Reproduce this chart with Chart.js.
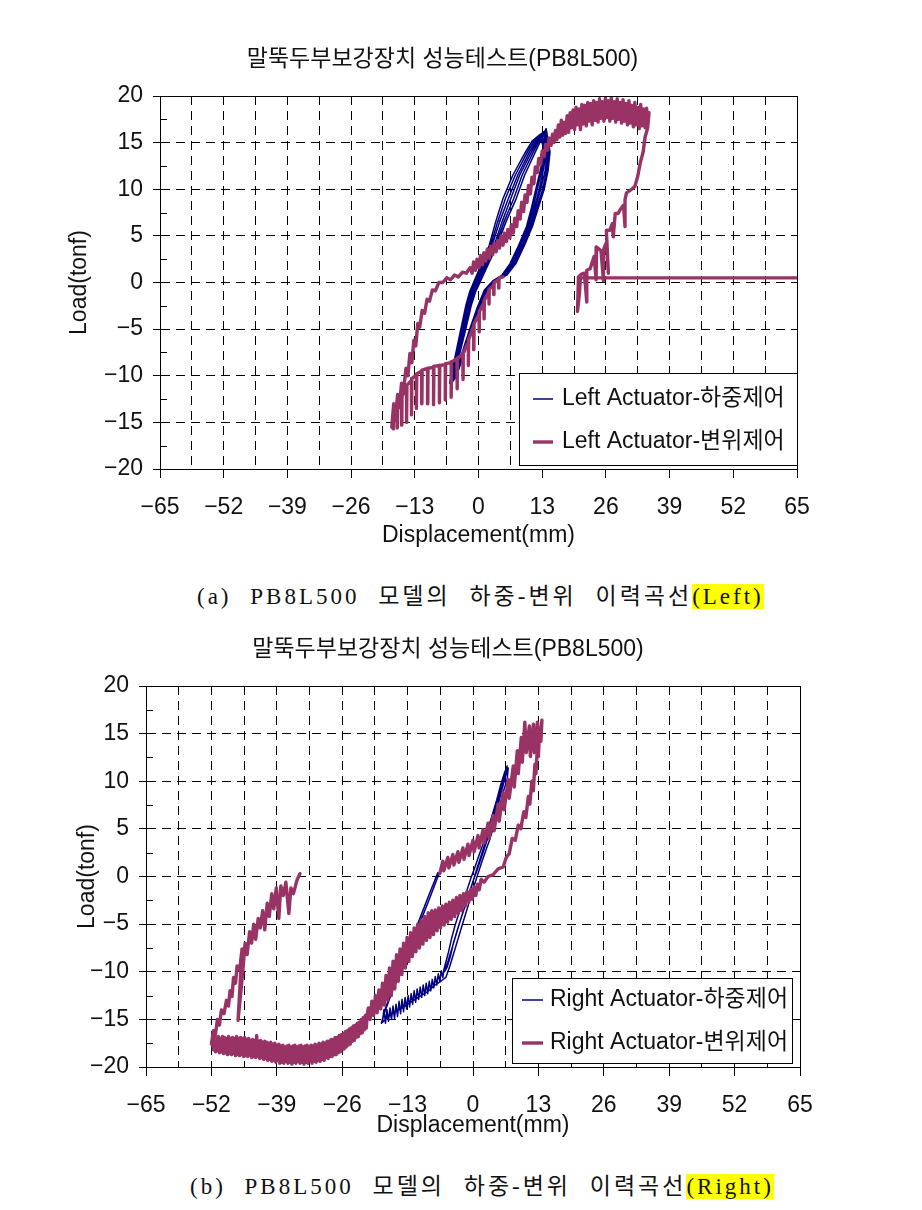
<!DOCTYPE html>
<html lang="ko">
<head>
<meta charset="UTF-8">
<title>말뚝두부보강장치 성능테스트(PB8L500)</title>
<script src="https://cdn.jsdelivr.net/npm/chart.js"></script>
<style>
  body { margin: 0; background: #fff; }
  #page { position: relative; width: 922px; height: 1210px; overflow: hidden; }
  .plot { position: absolute; left: 0; }
  .plot canvas { display: block; }
  .title {
    position: absolute; left: 0; text-align: center; white-space: nowrap;
    font-family: 'Liberation Sans', 'Noto Sans CJK KR', sans-serif;
    font-size: 23px; line-height: 28px; color: #111;
  }
  .caption {
    position: absolute; white-space: nowrap; color: #111;
    font-family: 'Liberation Serif', 'Noto Sans CJK KR', serif;
    font-size: 23px; line-height: 28px; letter-spacing: 3px; word-spacing: 10px;
  }
  .caption span { background: #ffff00; }
</style>
</head>
<body>
<div id="page">
  <div class="plot" style="top:0"><canvas id="leftChart" width="922" height="560"></canvas></div>
  <div class="plot" style="top:620px"><canvas id="rightChart" width="922" height="540"></canvas></div>
  <div class="title" style="top:44px; width:885px">말뚝두부보강장치 성능테스트(PB8L500)</div>
  <div class="caption" style="top:583px; left:197px">(a) PB8L500 모델의 하중-변위 이력곡선<span>(Left)</span></div>
  <div class="title" style="top:634px; width:896px">말뚝두부보강장치 성능테스트(PB8L500)</div>
  <div class="caption" style="top:1173px; left:190px">(b) PB8L500 모델의 하중-변위 이력곡선<span>(Right)</span></div>
</div>

<script>
// tick labels
const xLabelValues = [-65, -52, -39, -26, -13, 0, 13, 26, 39, 52, 65];
const yLabelValues = [-20, -15, -10, -5, 0, 5, 10, 15, 20];

// series names
const leftNames = ['Left Actuator-하중제어', 'Left Actuator-변위제어'];
const rightNames = ['Right Actuator-하중제어', 'Right Actuator-변위제어'];

// (a) Left actuator, load control  [displacement mm, load tonf]
const leftLoad = [
  [-5.9,-10.8],[-4.8,-8],[-3.6,-5],[-2.6,-2.5],[-1.8,-1],[0.2,1.5],[2.2,4],[3.5,6.5],[5.0,9],[7.0,11.5],[9.6,14],[11.0,15.2],[12.6,15.9],
  [13.4,14],[12.6,12],[11.7,10],[10.8,8],[9.8,6],[8.2,4],[6.4,2],[4.8,0.8],[3.0,0.2],[1.2,-0.8],[-0.2,-2.6],[-1.8,-5],[-3.4,-7.6],[-5.0,-10.2],
  [-5.8,-10.8],[-4.6,-8],[-3.4,-5],[-2.4,-2.5],[-1.6,-1],[0.5,1.5],[2.5,4],[3.9,6.5],[5.5,9],[7.5,11.5],[10.0,14],[11.4,15.2],[12.9,16.0],
  [13.6,14],[12.9,12],[12.0,10],[11.1,8],[10.0,6],[8.4,4],[6.6,2],[5.0,0.8],[3.1,0.2],[1.3,-0.8],[-0.1,-2.6],[-1.7,-5],[-3.3,-7.6],[-4.9,-10.2],
  [-5.7,-10.8],[-4.5,-8],[-3.2,-5],[-2.2,-2.5],[-1.3,-1],[0.8,1.5],[2.8,4],[4.3,6.5],[6.1,9],[8.0,11.5],[10.4,14],[11.8,15.2],[13.2,16.1],
  [13.9,14],[13.2,12],[12.4,10],[11.4,8],[10.3,6],[8.7,4],[6.9,2],[5.2,0.8],[3.2,0.2],[1.4,-0.8],[0.0,-2.6],[-1.6,-5],[-3.2,-7.6],[-4.8,-10.2],
  [-5.7,-10.8],[-4.3,-8],[-3.0,-5],[-1.9,-2.5],[-1.1,-1],[1.0,1.5],[3.2,4],[4.8,6.5],[6.6,9],[8.4,11.5],[10.8,14],[12.1,15.2],[13.4,16.2],
  [14.1,14],[13.6,12],[12.7,10],[11.6,8],[10.5,6],[8.9,4],[7.1,2],[5.4,0.8],[3.4,0.2],[1.6,-0.8],[0.2,-2.6],[-1.4,-5],[-3.1,-7.6],[-4.8,-10.2],
  [-5.6,-10.8],[-4.2,-8],[-2.8,-5],[-1.7,-2.5],[-0.8,-1],[1.3,1.5],[3.5,4],[5.2,6.5],[7.2,9],[8.9,11.5],[11.2,14],[12.4,15.2],[13.6,16.3],
  [14.4,14],[13.9,12],[13.1,10],[11.9,8],[10.8,6],[9.2,4],[7.4,2],[5.6,0.8],[3.5,0.2],[1.7,-0.8],[0.3,-2.6],[-1.3,-5],[-3.0,-7.6],[-4.7,-10.2],
  [-5.5,-10.8],[-4.0,-8],[-2.6,-5],[-1.5,-2.5],[-0.6,-1],[1.6,1.5],[3.8,4],[5.6,6.5],[7.7,9],[9.4,11.5],[11.6,14],[12.7,15.2],[13.8,16.5],
  [14.6,14],[14.2,12],[13.4,10],[12.2,8],[11.0,6],[9.4,4],[7.6,2],[5.8,0.8],[3.6,0.2],[1.8,-0.8],[0.4,-2.6],[-1.2,-5],[-2.9,-7.6],[-4.6,-10.2]
];

// (a) Left actuator, displacement control
const leftDisp = [
  [5.0,0.6],[4.2,0.5],[4.15,-0.6],[4.1,0.3],[3.2,0.0],[3.15,-1.3],[3.1,-0.3],[2.2,-0.7],[2.15,-2.3],[2.1,-1.0],
  [1.2,-1.9],[1.15,-3.9],[1.1,-2.2],[0.2,-3.1],[0.15,-5.3],[0.1,-3.4],[-0.9,-4.4],[-0.95,-7.2],[-1.0,-4.7],
  [-2.0,-6.1],[-2.05,-8.9],[-2.1,-6.4],[-3.1,-7.5],[-3.15,-10.4],[-3.2,-7.7],[-4.3,-8.1],[-4.35,-11.4],[-4.4,-8.2],
  [-5.5,-8.5],[-5.55,-12.3],[-5.6,-8.6],[-6.7,-8.7],[-6.75,-12.6],[-6.8,-8.8],[-7.9,-8.9],[-7.95,-12.9],[-8.0,-8.9],
  [-9.1,-9.0],[-9.15,-13.1],[-9.2,-9.1],[-10.3,-9.2],[-10.35,-13.0],[-10.4,-9.2],[-11.5,-9.4],[-11.55,-13.0],[-11.6,-9.5],
  [-12.6,-9.8],[-12.65,-13.5],[-12.7,-9.9],[-13.6,-10.3],[-13.65,-14.2],[-13.7,-10.5],[-14.6,-11.0],[-14.65,-15.0],[-14.7,-11.3],
  [-15.6,-12.2],[-15.65,-15.3],[-15.7,-12.5],[-16.5,-13.3],[-16.55,-15.6],[-16.6,-13.6],[-17.3,-14.5],[-17.35,-15.7],[-17.7,-15.5],
  [-17.3,-13.0],[-17.0,-14.8],[-16.5,-12.0],[-16.2,-13.4],[-15.7,-10.8],[-15.3,-11.6],[-14.8,-9.2],[-14.4,-10.0],[-14.0,-7.6],[-13.6,-8.6],
  [-13.2,-6.2],[-12.8,-6.8],[-12.4,-4.4],[-12.0,-4.8],[-11.5,-3.0],[-11.0,-3.3],[-10.5,-1.8],[-10.0,-2.0],[-9.4,-0.8],[-8.8,-0.9],
  [-8.1,0.0],[-7.3,0.0],[-6.5,0.5],[-5.7,0.3],[-4.9,0.8],[-4.1,0.6],[-3.3,1.1],[-2.5,1.0],[-1.7,1.6],
  [-1.3,1.0],[-1.0,2.2],[-0.6,1.3],[-0.3,2.5],[0.1,1.6],[0.4,2.9],[0.8,1.9],[1.1,3.2],[1.5,2.3],[1.8,3.6],[2.2,2.6],[2.5,3.9],
  [2.9,3.0],[3.2,4.2],[3.6,3.3],[3.9,4.5],[4.3,3.7],[4.6,5.0],[5.0,4.0],[5.3,5.3],[5.7,4.4],[6.0,5.7],[6.4,4.8],[6.7,6.2],
  [7.1,5.3],[7.4,6.9],[7.8,6.0],[8.1,7.7],[8.5,6.8],[8.8,8.6],[9.2,7.6],[9.5,9.4],[9.9,8.6],[10.2,10.4],[10.6,9.5],[10.9,11.3],
  [11.3,10.6],[11.6,12.4],[12.0,11.8],[12.3,13.3],[12.7,12.7],[13.0,14.1],[13.4,13.5],[13.7,14.8],[14.1,14.2],[14.4,15.5],[14.8,14.7],[15.1,15.9],
  [15.4,15.0],[15.7,16.3],[16.0,15.3],[16.3,16.9],[16.6,15.6],[16.9,17.4],[17.2,15.8],[17.5,17.2],[17.8,16.0],[18.1,17.9],
  [18.4,16.1],[18.7,18.2],[19.0,16.6],[19.3,18.5],[19.6,16.4],[19.9,18.8],[20.2,16.9],[20.5,18.6],[20.8,16.4],[21.1,19.1],
  [21.4,17.0],[21.7,19.0],[22.0,16.8],[22.3,19.3],[22.6,17.3],[22.9,19.2],[23.2,16.9],[23.5,19.5],[23.8,17.4],[24.1,19.3],
  [24.4,17.2],[24.7,19.7],[25.0,17.6],[25.3,19.4],[25.6,17.3],[25.9,19.8],[26.2,17.7],[26.5,19.5],[26.8,17.3],[27.1,19.8],
  [27.4,17.6],[27.7,19.4],[28.0,17.2],[28.3,19.7],[28.6,17.5],[28.9,19.3],[29.2,17.1],[29.5,19.6],[29.8,17.3],[30.1,19.2],
  [30.4,16.9],[30.7,19.5],[31.0,17.1],[31.3,19.0],[31.6,16.7],[31.9,19.3],[32.2,16.9],[32.5,18.8],[32.8,16.5],[33.1,19.1],
  [33.4,16.8],[33.7,18.6],[34.0,16.6],[34.3,18.7],[34.6,17.0],[34.8,18.2],
  [34.5,16.5],[34.0,15.6],[33.6,14.0],[33.0,12.8],[32.5,11.4],[31.9,10.3],[31.0,9.9],[30.2,9.6],[29.9,8.9],[29.9,6.0],
  [29.6,8.3],[28.9,7.8],[28.5,7.4],[27.9,7.4],[27.5,4.9],[27.3,6.3],[26.8,5.6],[26.1,5.6],[26.5,1.0],[26.1,4.3],
  [25.5,3.5],[25.5,0.2],[25.0,3.4],[24.1,3.8],[24.0,0.3],[23.6,2.8],[22.8,1.5],[22.1,1.3],[22.1,-2.1],[21.6,1.0],
  [21.0,0.9],[20.4,0.6],[20.2,-3.1],[20.6,-1.2],[20.8,0.5],[65.0,0.5]
];

// (b) Right actuator, load control
const rightLoad = [
  [-6.6,0.5],[-9.0,-2.8],[-11.4,-6.0],[-13.8,-9.2],[-16.0,-12.0],[-17.8,-14.6],[-18.0,-15.2],
  [-17.7,-14.0],[-17.4,-15.4],[-17.1,-14.0],[-16.8,-15.2],[-16.5,-13.8],[-16.2,-15.0],[-15.9,-13.6],[-15.6,-14.9],[-15.3,-13.4],
  [-15.0,-14.7],[-14.7,-13.1],[-14.4,-14.4],[-14.1,-12.9],[-13.8,-14.2],[-13.5,-12.7],[-13.2,-13.9],[-12.9,-12.5],[-12.6,-13.7],
  [-12.3,-12.3],[-12.0,-13.4],[-11.7,-12.0],[-11.4,-13.2],[-11.1,-11.8],[-10.8,-12.9],[-10.5,-11.6],[-10.2,-12.7],[-9.9,-11.4],
  [-9.6,-12.5],[-9.3,-11.2],[-9.0,-12.3],[-8.7,-11.0],[-8.4,-12.0],[-8.1,-10.8],[-7.8,-11.7],[-7.5,-10.5],[-7.2,-11.4],
  [-6.9,-10.2],[-6.6,-11.0],[-6.3,-9.9],[-6.0,-10.6],[-5.8,-9.8],
  [-5.6,-9.4],[-4.9,-8.0],[-4.3,-6.6],[-3.6,-5.2],[-2.9,-4.0],[-2.1,-2.8],[-1.3,-1.6],[-0.5,-0.3],[0.4,1.0],[1.3,2.4],
  [2.2,3.7],[3.1,5.2],[3.9,6.6],[4.7,8.0],[5.5,9.6],[6.2,10.8],[6.8,11.6],
  [6.5,10.8],[5.9,9.8],[5.3,8.6],[4.6,7.4],[3.9,6.0],[3.1,4.6],[2.3,3.3],[1.5,2.0],[0.7,0.7],[-0.1,-0.7],
  [-0.9,-2.0],[-1.7,-3.3],[-2.5,-4.6],[-3.3,-6.0],[-4.1,-7.4],[-4.9,-8.8],[-5.7,-10.0],
  [-5.2,-9.6],[-4.5,-8.4],[-3.9,-7.0],[-3.1,-5.6],[-2.4,-4.4],[-1.6,-3.1],[-0.8,-1.8],[0.0,-0.5],[0.9,0.8],[1.8,2.2],
  [2.6,3.5],[3.5,5.0],[4.3,6.4],[5.1,7.8],[5.9,9.4],[6.5,10.6],[7.0,11.4],
  [6.8,10.2],[6.2,9.2],[5.6,8.0],[4.9,6.8],[4.2,5.4],[3.4,4.0],[2.6,2.8],[1.8,1.6],[1.0,0.3],[0.2,-1.0],
  [-0.6,-2.4],[-1.4,-3.8],[-2.2,-5.2],[-3.0,-6.6],[-3.8,-8.0],[-4.6,-9.4],[-5.4,-10.6],
  [-6.4,-11.0],[-7.6,-11.4],[-8.8,-12.0],[-10.0,-12.4],[-11.2,-12.8],[-12.4,-13.2],[-13.6,-13.6],[-14.8,-14.0],[-16.0,-14.4],[-17.2,-14.9],[-18.2,-15.4],
  [-17.4,-13.8],[-15.4,-11.0],[-13.2,-8.0],[-11.0,-5.0],[-8.8,-2.0],[-7.0,0.4]
];

// (b) Right actuator, displacement control
const rightDisp = [
  [-6.6,0.3],[-6.0,1.6],[-5.8,0.6],[-5.0,2.0],[-4.8,0.9],[-4.0,2.3],[-3.8,1.2],[-3.0,2.6],[-2.8,1.5],[-2.0,3.0],[-1.8,1.8],
  [-1.0,3.4],[-0.8,2.2],[0.0,3.8],[0.2,2.6],[1.0,4.3],[1.2,3.0],[2.0,4.9],[2.2,3.5],[3.0,5.6],[3.2,4.0],[4.0,6.4],
  [4.2,4.8],[5.0,7.6],[5.2,5.8],[6.0,8.8],[6.2,7.0],[7.0,10.2],[7.2,8.2],[8.0,11.6],[8.2,9.4],[8.8,13.2],[9.0,10.8],
  [9.6,14.6],[9.8,12.0],[10.3,16.2],[10.6,13.0],[11.2,15.8],[11.4,12.6],[12.0,16.0],[12.2,13.0],[12.8,16.2],[13.0,13.6],[13.7,16.4],
  [13.5,14.2],[13.2,15.0],[13.0,12.6],[12.8,13.6],[12.5,10.8],[12.3,11.8],[12.0,9.0],[11.7,10.0],[11.3,7.6],[11.0,8.4],
  [10.5,6.2],[10.1,6.8],[9.5,5.0],[9.0,5.4],[8.4,3.8],[7.8,4.0],[7.2,2.4],[6.6,2.0],[6.0,1.0],[5.0,0.8],[4.0,0.2],[3.0,0.0],[2.2,-0.6],
  [1.6,-0.3],[1.25,-1.4],[0.9,-0.8],[0.55,-2.0],[0.2,-1.1],[-0.15,-2.4],[-0.5,-1.4],[-0.85,-2.7],[-1.2,-1.6],[-1.55,-3.1],
  [-1.9,-1.8],[-2.25,-3.6],[-2.6,-2.0],[-2.95,-3.9],[-3.3,-2.2],[-3.65,-4.2],[-4.0,-2.5],[-4.35,-4.5],[-4.7,-2.7],[-5.05,-4.8],
  [-5.4,-2.9],[-5.75,-5.1],[-6.1,-3.1],[-6.45,-5.4],[-6.8,-3.3],[-7.15,-5.7],[-7.5,-3.5],[-7.85,-6.1],[-8.2,-3.6],[-8.55,-6.4],
  [-8.9,-3.8],[-9.25,-6.7],[-9.6,-4.2],[-9.95,-7.1],[-10.3,-4.6],[-10.65,-7.5],[-11.0,-5.0],[-11.35,-7.9],[-11.7,-5.4],[-12.05,-8.4],
  [-12.4,-5.9],[-12.75,-8.9],[-13.1,-6.4],[-13.45,-9.6],[-13.8,-7.0],[-14.15,-10.3],[-14.5,-7.6],[-14.85,-11.0],[-15.2,-8.2],[-15.55,-11.8],
  [-15.9,-8.9],[-16.25,-12.5],[-16.6,-9.6],[-16.95,-13.0],[-17.3,-10.4],[-17.65,-13.5],[-18.0,-11.2],[-18.35,-13.9],[-18.7,-11.9],[-19.05,-14.3],
  [-19.4,-12.5],[-19.75,-14.6],[-20.1,-13.1],[-20.45,-15.0],[-20.8,-13.8],
  [-21.0,-14.4],[-21.2,-15.9],[-21.4,-14.6],[-21.6,-16.1],[-21.8,-14.8],[-22.0,-16.4],[-22.2,-15.0],[-22.4,-16.5],[-22.6,-15.3],[-22.8,-16.8],
  [-23.0,-15.4],[-23.2,-16.9],[-23.4,-15.6],[-23.6,-17.2],[-23.8,-15.7],[-24.0,-17.3],[-24.2,-15.9],[-24.4,-17.6],[-24.6,-16.0],[-24.8,-17.7],
  [-25.0,-16.2],[-25.2,-17.9],[-25.4,-16.3],[-25.6,-18.1],[-25.8,-16.5],[-26.0,-18.2],[-26.2,-16.6],[-26.4,-18.4],[-26.6,-16.7],[-26.8,-18.5],
  [-27.0,-16.9],[-27.2,-18.7],[-27.4,-16.9],[-27.6,-18.7],[-27.8,-17.1],[-28.0,-18.9],[-28.2,-17.1],[-28.4,-18.9],[-28.6,-17.3],[-28.8,-19.1],
  [-29.0,-17.3],[-29.2,-19.0],[-29.4,-17.5],[-29.6,-19.3],[-29.8,-17.4],[-30.0,-19.2],[-30.2,-17.6],[-30.4,-19.4],[-30.6,-17.5],[-30.8,-19.3],
  [-31.0,-17.7],[-31.2,-19.5],[-31.4,-17.6],[-31.6,-19.4],[-31.8,-17.8],[-32.0,-19.6],[-32.2,-17.7],[-32.4,-19.4],[-32.6,-17.9],[-32.8,-19.6],
  [-33.0,-17.7],[-33.2,-19.5],[-33.4,-17.8],[-33.6,-19.7],[-33.8,-17.9],[-34.0,-19.5],[-34.2,-17.7],[-34.4,-19.6],[-34.6,-17.8],[-34.8,-19.4],
  [-35.0,-17.9],[-35.2,-19.6],[-35.4,-17.7],[-35.6,-19.5],[-35.8,-17.8],[-36.0,-19.7],[-36.2,-17.9],[-36.4,-19.5],[-36.6,-17.7],[-36.8,-19.6],
  [-37.0,-17.8],[-37.2,-19.4],[-37.4,-17.9],[-37.6,-19.6],[-37.8,-17.7],[-38.0,-19.5],[-38.2,-17.8],[-38.4,-19.6],[-38.6,-17.6],[-38.8,-19.3],
  [-39.0,-17.7],[-39.2,-19.5],[-39.4,-17.5],[-39.6,-19.3],[-39.8,-17.6],[-40.0,-19.4],[-40.2,-17.4],[-40.4,-19.2],[-40.6,-17.5],[-40.8,-19.3],
  [-41.0,-17.4],[-41.2,-19.1],[-41.4,-17.3],[-41.6,-19.2],[-41.8,-17.4],[-42.0,-19.0],[-42.2,-17.2],[-42.4,-19.1],[-42.6,-17.3],[-42.8,-18.9],
  [-43.0,-16.7],[-43.2,-19.0],[-43.4,-17.2],[-43.6,-18.9],[-43.8,-17.1],[-44.0,-19.0],[-44.2,-17.2],[-44.4,-18.8],[-44.6,-17.0],[-44.8,-18.9],
  [-45.0,-17.1],[-45.2,-18.8],[-45.4,-16.9],[-45.6,-18.9],[-45.8,-17.0],[-46.0,-18.7],[-46.2,-16.9],[-46.4,-18.8],[-46.6,-17.0],[-46.8,-18.7],
  [-47.0,-16.8],[-47.2,-18.8],[-47.4,-17.0],[-47.6,-18.6],[-47.8,-16.9],[-48.0,-18.7],[-48.2,-17.0],[-48.4,-18.6],[-48.6,-16.8],[-48.8,-18.7],
  [-49.0,-17.0],[-49.2,-18.5],[-49.4,-16.9],[-49.6,-18.6],[-49.8,-16.8],[-50.0,-18.4],[-50.2,-17.0],[-50.4,-18.5],[-50.6,-16.8],[-50.8,-18.3],
  [-51.0,-16.9],[-51.2,-18.4],[-51.4,-16.8],[-51.6,-18.2],[-51.8,-17.0],[-52.0,-17.6],
  [-51.6,-16.2],[-51.2,-16.6],[-50.8,-15.0],[-50.4,-15.6],[-50.0,-14.0],[-49.5,-14.4],[-49.0,-13.0],[-48.6,-13.6],[-48.3,-12.0],[-47.9,-12.6],
  [-47.6,-10.6],[-47.2,-11.2],[-46.9,-9.4],[-46.4,-9.8],[-45.9,-7.6],[-46.7,-15.1],[-45.8,-10.2],[-45.3,-7.0],[-44.9,-8.2],[-44.4,-5.8],
  [-44.0,-7.0],[-43.6,-5.0],[-43.2,-6.6],[-42.7,-4.4],[-42.3,-5.4],[-41.8,-3.6],[-41.4,-5.6],[-40.9,-2.8],[-40.5,-4.2],[-40.0,-1.8],
  [-39.6,-3.4],[-39.1,-1.2],[-38.6,-4.4],[-38.2,-1.0],[-37.7,-2.0],[-37.2,-0.6],[-36.6,-3.9],[-36.2,-1.2],[-35.7,-1.8],[-35.0,-0.4],[-34.4,0.3]
];

const FONT = "'Liberation Sans', 'Noto Sans CJK KR', sans-serif";
Chart.defaults.font.family = FONT;
Chart.defaults.color = '#111';

const minus = v => String(v).replace('-', '\u2212');
const toPoints = arr => arr.map(p => ({ x: p[0], y: p[1] }));

// solid plot frame, small inward minor ticks on the y axis and the boxed legend
const frameLegend = {
  id: 'frameLegend',
  afterDraw(chart, args, opts) {
    const { ctx, chartArea: a } = chart;
    const ys = chart.scales.y;
    ctx.save();
    ctx.strokeStyle = '#000';
    ctx.lineWidth = 1;
    ys.ticks.forEach(t => {
      if (yLabelValues.includes(t.value)) return;
      const py = Math.round(ys.getPixelForValue(t.value)) + 0.5;
      ctx.beginPath();
      ctx.moveTo(a.left, py);
      ctx.lineTo(a.left + 7, py);
      ctx.stroke();
    });
    const l = Math.round(a.left) + 0.5, t = Math.round(a.top) + 0.5;
    ctx.strokeRect(l, t, Math.round(a.right) - Math.round(a.left), Math.round(a.bottom) - Math.round(a.top));

    const b = opts.box;
    ctx.fillStyle = '#fff';
    ctx.fillRect(b.x, b.y, b.w, b.h);
    ctx.strokeRect(b.x + 0.5, b.y + 0.5, b.w, b.h);
    ctx.font = '23px ' + FONT;
    ctx.textBaseline = 'middle';
    chart.data.datasets.forEach((ds, i) => {
      const ly = b.y + opts.rows[i];
      ctx.strokeStyle = ds.borderColor;
      ctx.lineWidth = ds.borderWidth;
      ctx.beginPath();
      ctx.moveTo(b.x + opts.lineX[0], ly);
      ctx.lineTo(b.x + opts.lineX[1], ly);
      ctx.stroke();
      ctx.fillStyle = '#111';
      ctx.fillText(ds.label, b.x + opts.textX, ly);
    });
    ctx.restore();
  }
};

function makeChart(id, names, load, disp, lay) {
  return new Chart(document.getElementById(id), {
    type: 'scatter',
    data: {
      datasets: [
        { label: names[0], data: toPoints(load), showLine: true, borderColor: '#000080', borderWidth: 1.5, order: 1 },
        { label: names[1], data: toPoints(disp), showLine: true, borderColor: '#993366', borderWidth: 3.4, order: 0 }
      ]
    },
    options: {
      responsive: false,
      animation: false,
      events: [],
      elements: {
        point: { radius: 0 },
        line: { tension: 0, borderJoinStyle: 'round', borderCapStyle: 'round' }
      },
      layout: { padding: lay.padding },
      scales: {
        x: {
          type: 'linear', min: -65, max: 65,
          afterFit: s => { s.height = lay.xAxisHeight; },
          ticks: {
            stepSize: 6.5, maxTicksLimit: 50, autoSkip: false, maxRotation: 0,
            padding: 16, font: { size: 23 }, color: '#111',
            callback: v => xLabelValues.includes(v) ? minus(v) : ''
          },
          grid: {
            color: '#000', lineWidth: 1, tickLength: 9,
            tickColor: c => xLabelValues.includes(c.tick.value) ? '#000' : 'rgba(0,0,0,0)'
          },
          border: { display: true, color: '#000', width: 1, dash: [9, 6] },
          title: { display: true, text: 'Displacement(mm)', font: { size: 23 }, color: '#111', padding: { top: 0, bottom: 0 } }
        },
        y: {
          type: 'linear', min: -20, max: 20,
          afterFit: s => { s.width = lay.yAxisWidth; },
          ticks: {
            stepSize: 2.5, maxTicksLimit: 50, autoSkip: false,
            padding: 10, font: { size: 23 }, color: '#111',
            callback: v => yLabelValues.includes(v) ? minus(v) : ''
          },
          grid: {
            lineWidth: 1, tickLength: 7,
            color: c => yLabelValues.includes(c.tick.value) ? '#000' : 'rgba(0,0,0,0)',
            tickColor: c => yLabelValues.includes(c.tick.value) ? '#000' : 'rgba(0,0,0,0)'
          },
          border: { display: true, color: '#000', width: 1, dash: [9, 6] },
          title: { display: true, text: 'Load(tonf)', font: { size: 23 }, color: '#111', padding: { top: lay.yTitlePad, bottom: 0 } }
        }
      },
      plugins: {
        legend: { display: false },
        tooltip: { enabled: false },
        frameLegend: lay.legend
      }
    },
    plugins: [frameLegend]
  });
}

makeChart('leftChart', leftNames, leftLoad, leftDisp, {
  padding: { left: 60, right: 125, top: 96, bottom: 11 },
  xAxisHeight: 80, yAxisWidth: 100, yTitlePad: 6,
  legend: { box: { x: 519, y: 373, w: 278, h: 92 }, rows: [26, 69], lineX: [14, 34], textX: 43 }
});

makeChart('rightChart', rightNames, rightLoad, rightDisp, {
  padding: { left: 66, right: 122, top: 66, bottom: 21 },
  xAxisHeight: 72, yAxisWidth: 80, yTitlePad: 8,
  legend: { box: { x: 512, y: 358, w: 280, h: 85 }, rows: [22, 65], lineX: [10, 31], textX: 38 }
});
</script>
</body>
</html>
